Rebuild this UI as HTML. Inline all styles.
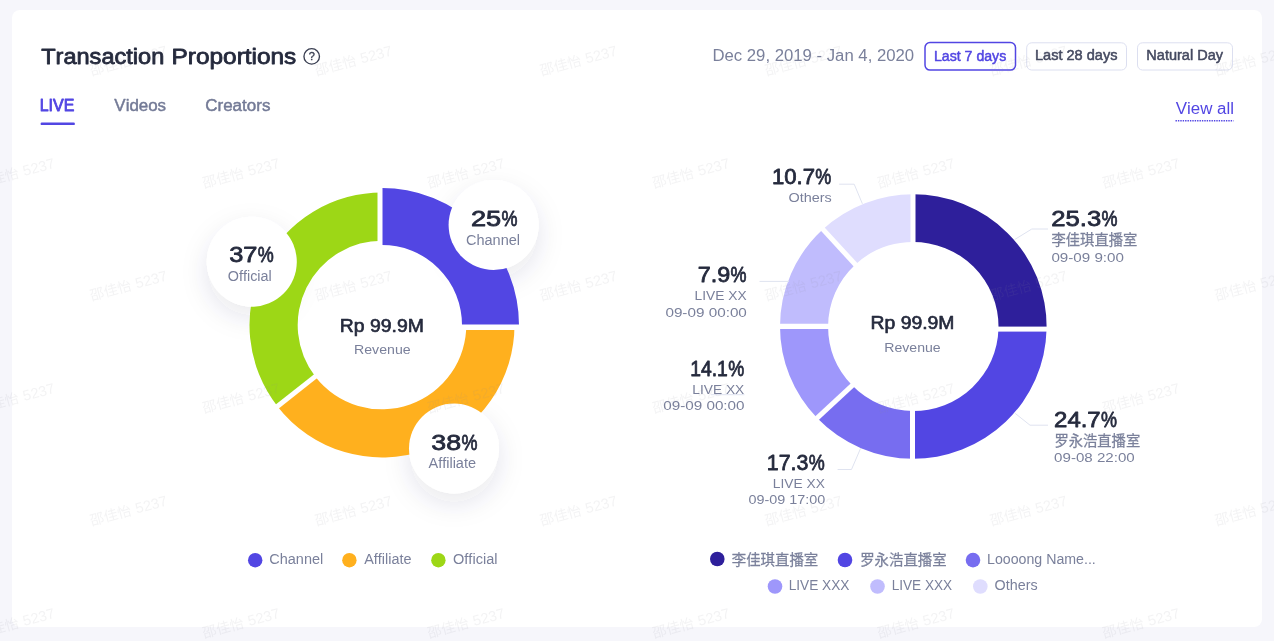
<!DOCTYPE html>
<html><head><meta charset="utf-8"><title>Transaction Proportions</title>
<style>
html,body{margin:0;padding:0;}
body{width:1274px;height:641px;overflow:hidden;background:#f6f6fb;position:relative;font-family:"Liberation Sans",sans-serif;}
.card{position:absolute;left:11.6px;top:9.75px;width:1250.8px;height:616.75px;background:#fff;border-radius:8px;}
svg{position:absolute;left:0;top:0;font-family:"Liberation Sans","Noto Sans CJK SC",sans-serif;font-kerning:none;will-change:transform;}
</style></head><body>
<div class="card"></div>
<svg width="1274" height="641" viewBox="0 0 1274 641">
<defs>
<filter id="sh" x="-60%" y="-60%" width="220%" height="220%"><feDropShadow dx="0" dy="10" stdDeviation="13" flood-color="#2a3160" flood-opacity="0.11"/></filter>
<g id="wm" fill="#8e8e98" fill-opacity="0.105"><text x="0" y="0" font-size="14.1" textLength="42.3" lengthAdjust="spacingAndGlyphs" font-family="'Liberation Sans','Noto Sans CJK SC',sans-serif">邵佳怡</text><text x="46.8" y="0" font-size="14.6">5237</text></g>
<clipPath id="cardclip"><rect x="11.6" y="9.75" width="1250.8" height="616.75" rx="8"/></clipPath>
</defs>
<g clip-path="url(#cardclip)">
<text x="41.17" y="63.9" font-size="22" fill="#252a3d" textLength="123.16" lengthAdjust="spacingAndGlyphs" stroke="#252a3d" stroke-width="0.80" stroke-linejoin="round" >Transaction</text>
<text x="171.60" y="63.9" font-size="22" fill="#252a3d" textLength="124.68" lengthAdjust="spacingAndGlyphs" stroke="#252a3d" stroke-width="0.80" stroke-linejoin="round" >Proportions</text>
<circle cx="311.7" cy="56.4" r="7.75" fill="none" stroke="#3a3f52" stroke-width="1.35"/>
<text x="311.7" y="60.4" font-size="11" fill="#3a3f52" text-anchor="middle" stroke="#3a3f52" stroke-width="0.35">?</text>
<text x="39.69" y="110.9" font-size="16" fill="#5246e3" textLength="34.59" lengthAdjust="spacingAndGlyphs" stroke="#5246e3" stroke-width="0.80" stroke-linejoin="round" >LIVE</text>
<text x="114.35" y="110.9" font-size="16" fill="#737a96" textLength="51.74" lengthAdjust="spacingAndGlyphs" stroke="#737a96" stroke-width="0.45" stroke-linejoin="round" >Videos</text>
<text x="205.26" y="110.9" font-size="16" fill="#737a96" textLength="65.13" lengthAdjust="spacingAndGlyphs" stroke="#737a96" stroke-width="0.45" stroke-linejoin="round" >Creators</text>
<rect x="40.6" y="122.6" width="34.3" height="2.5" rx="1.2" fill="#5246e3"/>
<text x="712.43" y="61.4" font-size="16" fill="#7a809b" textLength="201.72" lengthAdjust="spacingAndGlyphs" >Dec 29, 2019 - Jan 4, 2020</text>
<rect x="925" y="42.5" width="90.5" height="27.6" rx="5" fill="#fff" stroke="#5246e3" stroke-width="1.5"/>
<text x="933.99" y="60.6" font-size="14" fill="#5246e3" textLength="72.27" lengthAdjust="spacingAndGlyphs" stroke="#5246e3" stroke-width="0.50" stroke-linejoin="round" >Last 7 days</text>
<rect x="1026.7" y="42.8" width="99.8" height="27.2" rx="5" fill="#fff" stroke="#dcdff0" stroke-width="1"/>
<text x="1034.96" y="60.0" font-size="14" fill="#454a61" textLength="82.52" lengthAdjust="spacingAndGlyphs" stroke="#454a61" stroke-width="0.50" stroke-linejoin="round" >Last 28 days</text>
<rect x="1137.5" y="42.8" width="95" height="27.2" rx="5" fill="#fff" stroke="#dcdff0" stroke-width="1"/>
<text x="1146.36" y="60.0" font-size="14" fill="#454a61" textLength="76.62" lengthAdjust="spacingAndGlyphs" stroke="#454a61" stroke-width="0.50" stroke-linejoin="round" >Natural Day</text>
<text x="1175.83" y="113.9" font-size="16" fill="#5246e3" textLength="58.20" lengthAdjust="spacingAndGlyphs" >View all</text>
<line x1="1175.5" y1="120.8" x2="1233.5" y2="120.8" stroke="#5246e3" stroke-width="1.4" stroke-dasharray="1.4 1"/>
<circle cx="493.6" cy="225" r="45" fill="#fff" filter="url(#sh)"/>
<circle cx="251.8" cy="261.8" r="45" fill="#fff" filter="url(#sh)"/>
<circle cx="454" cy="448.5" r="45" fill="#fff" filter="url(#sh)"/>
<path d="M277.59 406.58A132.5 132.50 0 0 1 384.31 192.52L383.47 240.71A84.3 84.30 0 0 0 315.57 376.90Z" fill="#9dd716"/>
<path d="M514.48 322.69A132.5 132.50 0 0 1 277.30 406.21L315.39 376.67A84.3 84.30 0 0 0 466.29 323.53Z" fill="#ffb01e"/>
<path d="M379.61 188.02A137 137.00 0 0 1 518.98 327.39L461.99 326.40A80 80.00 0 0 0 380.60 245.01Z" fill="#5246e3"/>
<rect x="377.5" y="183" width="5" height="66" fill="#fff"/>
<rect x="458" y="324.5" width="64" height="5.5" fill="#fff"/>
<line x1="270.92" y1="411.50" x2="318.88" y2="373.65" stroke="#fff" stroke-width="5"/>
<text x="339.82" y="332.4" font-size="17.5" fill="#252a3d" textLength="84.05" lengthAdjust="spacingAndGlyphs" stroke="#252a3d" stroke-width="0.63" stroke-linejoin="round" >Rp 99.9M</text>
<text x="354.04" y="354.0" font-size="13" fill="#7a809b" textLength="56.59" lengthAdjust="spacingAndGlyphs" >Revenue</text>
<circle cx="493.6" cy="225" r="45" fill="#fff"/>
<circle cx="251.8" cy="261.8" r="45" fill="#fff"/>
<circle cx="454" cy="448.5" r="45" fill="#fff"/>
<text x="470.92" y="226.1" font-size="22" fill="#252a3d" textLength="30.32" lengthAdjust="spacingAndGlyphs" stroke="#252a3d" stroke-width="0.79" stroke-linejoin="round" >25</text>
<text x="501.55" y="226.1" font-size="22" fill="#252a3d" textLength="15.99" lengthAdjust="spacingAndGlyphs" stroke="#252a3d" stroke-width="0.79" stroke-linejoin="round" >%</text>
<text x="465.96" y="244.5" font-size="14" fill="#7a809b" textLength="54.11" lengthAdjust="spacingAndGlyphs" >Channel</text>
<text x="229.23" y="262.0" font-size="22" fill="#252a3d" textLength="28.25" lengthAdjust="spacingAndGlyphs" stroke="#252a3d" stroke-width="0.79" stroke-linejoin="round" >37</text>
<text x="257.65" y="262.0" font-size="22" fill="#252a3d" textLength="15.99" lengthAdjust="spacingAndGlyphs" stroke="#252a3d" stroke-width="0.79" stroke-linejoin="round" >%</text>
<text x="227.82" y="280.6" font-size="14" fill="#7a809b" textLength="43.94" lengthAdjust="spacingAndGlyphs" >Official</text>
<text x="431.38" y="449.9" font-size="22" fill="#252a3d" textLength="29.79" lengthAdjust="spacingAndGlyphs" stroke="#252a3d" stroke-width="0.79" stroke-linejoin="round" >38</text>
<text x="461.45" y="449.9" font-size="22" fill="#252a3d" textLength="15.99" lengthAdjust="spacingAndGlyphs" stroke="#252a3d" stroke-width="0.79" stroke-linejoin="round" >%</text>
<text x="428.47" y="468.4" font-size="14" fill="#7a809b" textLength="47.57" lengthAdjust="spacingAndGlyphs" >Affiliate</text>
<circle cx="255.2" cy="560.2" r="7.2" fill="#5246e3"/>
<text x="269.26" y="564.4" font-size="14" fill="#7a809b" textLength="54.01" lengthAdjust="spacingAndGlyphs" >Channel</text>
<circle cx="349.4" cy="560.2" r="7.2" fill="#ffb01e"/>
<text x="364.17" y="564.4" font-size="14" fill="#7a809b" textLength="47.27" lengthAdjust="spacingAndGlyphs" >Affiliate</text>
<circle cx="438.4" cy="560.2" r="7.2" fill="#9dd716"/>
<text x="453.01" y="564.4" font-size="14" fill="#7a809b" textLength="44.46" lengthAdjust="spacingAndGlyphs" >Official</text>
<path d="M910.97 194.26A133.3 132.26 0 0 1 1046.57 329.27L998.48 328.27A85.2 84.54 0 0 0 911.81 241.98Z" fill="#2e1f9b"/>
<path d="M1046.57 329.27A133.3 132.26 0 0 1 910.97 458.74L911.81 411.02A85.2 84.54 0 0 0 998.48 328.27Z" fill="#5246e3"/>
<path d="M913.30 458.76A133.3 132.26 0 0 1 817.09 418.04L851.81 385.01A85.2 84.54 0 0 0 913.30 411.04Z" fill="#776df0"/>
<path d="M817.09 418.04A133.3 132.26 0 0 1 780.00 326.50L828.10 326.50A85.2 84.54 0 0 0 851.81 385.01Z" fill="#9e97fb"/>
<path d="M780.00 326.50A133.3 132.26 0 0 1 822.39 229.77L855.19 264.67A85.2 84.54 0 0 0 828.10 326.50Z" fill="#c0bcfd"/>
<path d="M822.39 229.77A133.3 132.26 0 0 1 914.46 194.24L914.04 241.97A85.2 84.54 0 0 0 855.19 264.67Z" fill="#dfddfe"/>
<rect x="910.5" y="190" width="5" height="56" fill="#fff"/>
<rect x="910" y="407" width="5" height="56" fill="#fff"/>
<rect x="776" y="323.75" width="56" height="5.25" fill="#fff"/>
<rect x="995" y="326.6" width="56" height="5" fill="#fff"/>
<line x1="819.09" y1="225.08" x2="858.53" y2="268.03" stroke="#fff" stroke-width="5"/>
<line x1="813.25" y1="421.58" x2="855.87" y2="382.10" stroke="#fff" stroke-width="5"/>
<text x="870.53" y="329.3" font-size="17.5" fill="#252a3d" textLength="83.95" lengthAdjust="spacingAndGlyphs" stroke="#252a3d" stroke-width="0.63" stroke-linejoin="round" >Rp 99.9M</text>
<text x="884.34" y="351.5" font-size="13" fill="#7a809b" textLength="56.38" lengthAdjust="spacingAndGlyphs" >Revenue</text>
<polyline points="839.1,184.2 854.2,184.2 862.4,203.8" fill="none" stroke="#dfe3f0" stroke-width="1"/>
<polyline points="759.5,281.4 789,281.4" fill="none" stroke="#dfe3f0" stroke-width="1"/>
<polyline points="711,394.7 744.5,394.7" fill="none" stroke="#dfe3f0" stroke-width="1"/>
<polyline points="837.6,469.5 851.5,469.5 860.6,448.3" fill="none" stroke="#dfe3f0" stroke-width="1"/>
<polyline points="1048,229 1031.8,229 1014.6,239.6" fill="none" stroke="#dfe3f0" stroke-width="1"/>
<polyline points="1048,425.2 1030,425.2 1015.2,413.4" fill="none" stroke="#dfe3f0" stroke-width="1"/>
<text x="771.91" y="184.4" font-size="22" fill="#252a3d" textLength="43.11" lengthAdjust="spacingAndGlyphs" stroke="#252a3d" stroke-width="0.79" stroke-linejoin="round" >10.7</text>
<text x="815.35" y="184.4" font-size="22" fill="#252a3d" textLength="15.99" lengthAdjust="spacingAndGlyphs" stroke="#252a3d" stroke-width="0.79" stroke-linejoin="round" >%</text>
<text x="788.52" y="202.1" font-size="13" fill="#7a809b" textLength="43.30" lengthAdjust="spacingAndGlyphs" >Others</text>
<text x="697.70" y="281.9" font-size="22" fill="#252a3d" textLength="32.52" lengthAdjust="spacingAndGlyphs" stroke="#252a3d" stroke-width="0.79" stroke-linejoin="round" >7.9</text>
<text x="730.55" y="281.9" font-size="22" fill="#252a3d" textLength="15.99" lengthAdjust="spacingAndGlyphs" stroke="#252a3d" stroke-width="0.79" stroke-linejoin="round" >%</text>
<text x="694.57" y="300.0" font-size="13" fill="#7a809b" textLength="52.02" lengthAdjust="spacingAndGlyphs" >LIVE XX</text>
<text x="665.40" y="317.1" font-size="13" fill="#7a809b" textLength="81.49" lengthAdjust="spacingAndGlyphs" >09-09 00:00</text>
<text x="690.22" y="375.8" font-size="22" fill="#252a3d" textLength="37.62" lengthAdjust="spacingAndGlyphs" stroke="#252a3d" stroke-width="0.79" stroke-linejoin="round" >14.1</text>
<text x="728.35" y="375.8" font-size="22" fill="#252a3d" textLength="15.99" lengthAdjust="spacingAndGlyphs" stroke="#252a3d" stroke-width="0.79" stroke-linejoin="round" >%</text>
<text x="692.37" y="393.6" font-size="13" fill="#7a809b" textLength="51.92" lengthAdjust="spacingAndGlyphs" >LIVE XX</text>
<text x="663.20" y="410.4" font-size="13" fill="#7a809b" textLength="81.39" lengthAdjust="spacingAndGlyphs" >09-09 00:00</text>
<text x="766.77" y="469.7" font-size="22" fill="#252a3d" textLength="41.57" lengthAdjust="spacingAndGlyphs" stroke="#252a3d" stroke-width="0.79" stroke-linejoin="round" >17.3</text>
<text x="808.85" y="469.7" font-size="22" fill="#252a3d" textLength="15.99" lengthAdjust="spacingAndGlyphs" stroke="#252a3d" stroke-width="0.79" stroke-linejoin="round" >%</text>
<text x="772.87" y="487.8" font-size="13" fill="#7a809b" textLength="52.02" lengthAdjust="spacingAndGlyphs" >LIVE XX</text>
<text x="748.44" y="504.3" font-size="13" fill="#7a809b" textLength="76.72" lengthAdjust="spacingAndGlyphs" >09-09 17:00</text>
<text x="1051.31" y="226.2" font-size="22" fill="#252a3d" textLength="49.93" lengthAdjust="spacingAndGlyphs" stroke="#252a3d" stroke-width="0.79" stroke-linejoin="round" >25.3</text>
<text x="1101.55" y="226.2" font-size="22" fill="#252a3d" textLength="15.99" lengthAdjust="spacingAndGlyphs" stroke="#252a3d" stroke-width="0.79" stroke-linejoin="round" >%</text>
<text x="1051.50" y="245.0" font-size="14.3" fill="#7a809b" stroke="#7a809b" stroke-width="0.26" textLength="85.8" lengthAdjust="spacingAndGlyphs" font-family="'Liberation Sans','Noto Sans CJK SC',sans-serif">李佳琪直播室</text>
<text x="1051.41" y="261.8" font-size="13" fill="#7a809b" textLength="72.48" lengthAdjust="spacingAndGlyphs" >09-09 9:00</text>
<text x="1054.09" y="427.4" font-size="22" fill="#252a3d" textLength="46.62" lengthAdjust="spacingAndGlyphs" stroke="#252a3d" stroke-width="0.79" stroke-linejoin="round" >24.7</text>
<text x="1100.95" y="427.4" font-size="22" fill="#252a3d" textLength="15.99" lengthAdjust="spacingAndGlyphs" stroke="#252a3d" stroke-width="0.79" stroke-linejoin="round" >%</text>
<text x="1054.40" y="445.7" font-size="14.3" fill="#7a809b" stroke="#7a809b" stroke-width="0.26" textLength="85.8" lengthAdjust="spacingAndGlyphs" font-family="'Liberation Sans','Noto Sans CJK SC',sans-serif">罗永浩直播室</text>
<text x="1054.11" y="462.4" font-size="13" fill="#7a809b" textLength="80.68" lengthAdjust="spacingAndGlyphs" >09-08 22:00</text>
<circle cx="717.3" cy="559" r="7.3" fill="#2e1f9b"/>
<text x="731.80" y="564.5" font-size="14.4" fill="#7a809b" stroke="#7a809b" stroke-width="0.26" textLength="86.4" lengthAdjust="spacingAndGlyphs" font-family="'Liberation Sans','Noto Sans CJK SC',sans-serif">李佳琪直播室</text>
<circle cx="845" cy="560" r="7.3" fill="#5246e3"/>
<text x="860.20" y="564.5" font-size="14.4" fill="#7a809b" stroke="#7a809b" stroke-width="0.26" textLength="86.4" lengthAdjust="spacingAndGlyphs" font-family="'Liberation Sans','Noto Sans CJK SC',sans-serif">罗永浩直播室</text>
<circle cx="973" cy="560.1" r="7.3" fill="#776df0"/>
<text x="987.04" y="563.9" font-size="14" fill="#7a809b" textLength="108.76" lengthAdjust="spacingAndGlyphs" >Loooong Name...</text>
<circle cx="775" cy="586.5" r="7.3" fill="#9e97fb"/>
<text x="788.68" y="590.3" font-size="14" fill="#7a809b" textLength="60.81" lengthAdjust="spacingAndGlyphs" >LIVE XXX</text>
<circle cx="877.5" cy="586.5" r="7.3" fill="#c0bcfd"/>
<text x="891.68" y="590.3" font-size="14" fill="#7a809b" textLength="60.50" lengthAdjust="spacingAndGlyphs" >LIVE XXX</text>
<circle cx="980.3" cy="586.5" r="7.3" fill="#dfddfe"/>
<text x="994.62" y="590.1" font-size="14" fill="#7a809b" textLength="43.00" lengthAdjust="spacingAndGlyphs" >Others</text>
</g>
<use href="#wm" transform="translate(91.6 75.7) rotate(-15)"/>
<use href="#wm" transform="translate(316.6 75.7) rotate(-15)"/>
<use href="#wm" transform="translate(541.6 75.7) rotate(-15)"/>
<use href="#wm" transform="translate(766.6 75.7) rotate(-15)"/>
<use href="#wm" transform="translate(991.6 75.7) rotate(-15)"/>
<use href="#wm" transform="translate(1216.6 75.7) rotate(-15)"/>
<use href="#wm" transform="translate(-20.9 188.2) rotate(-15)"/>
<use href="#wm" transform="translate(204.1 188.2) rotate(-15)"/>
<use href="#wm" transform="translate(429.1 188.2) rotate(-15)"/>
<use href="#wm" transform="translate(654.1 188.2) rotate(-15)"/>
<use href="#wm" transform="translate(879.1 188.2) rotate(-15)"/>
<use href="#wm" transform="translate(1104.1 188.2) rotate(-15)"/>
<use href="#wm" transform="translate(91.6 300.7) rotate(-15)"/>
<use href="#wm" transform="translate(316.6 300.7) rotate(-15)"/>
<use href="#wm" transform="translate(541.6 300.7) rotate(-15)"/>
<use href="#wm" transform="translate(766.6 300.7) rotate(-15)"/>
<use href="#wm" transform="translate(991.6 300.7) rotate(-15)"/>
<use href="#wm" transform="translate(1216.6 300.7) rotate(-15)"/>
<use href="#wm" transform="translate(-20.9 413.2) rotate(-15)"/>
<use href="#wm" transform="translate(204.1 413.2) rotate(-15)"/>
<use href="#wm" transform="translate(429.1 413.2) rotate(-15)"/>
<use href="#wm" transform="translate(654.1 413.2) rotate(-15)"/>
<use href="#wm" transform="translate(879.1 413.2) rotate(-15)"/>
<use href="#wm" transform="translate(1104.1 413.2) rotate(-15)"/>
<use href="#wm" transform="translate(91.6 525.7) rotate(-15)"/>
<use href="#wm" transform="translate(316.6 525.7) rotate(-15)"/>
<use href="#wm" transform="translate(541.6 525.7) rotate(-15)"/>
<use href="#wm" transform="translate(766.6 525.7) rotate(-15)"/>
<use href="#wm" transform="translate(991.6 525.7) rotate(-15)"/>
<use href="#wm" transform="translate(1216.6 525.7) rotate(-15)"/>
<use href="#wm" transform="translate(-20.9 638.2) rotate(-15)"/>
<use href="#wm" transform="translate(204.1 638.2) rotate(-15)"/>
<use href="#wm" transform="translate(429.1 638.2) rotate(-15)"/>
<use href="#wm" transform="translate(654.1 638.2) rotate(-15)"/>
<use href="#wm" transform="translate(879.1 638.2) rotate(-15)"/>
<use href="#wm" transform="translate(1104.1 638.2) rotate(-15)"/>
</svg>
</body></html>
